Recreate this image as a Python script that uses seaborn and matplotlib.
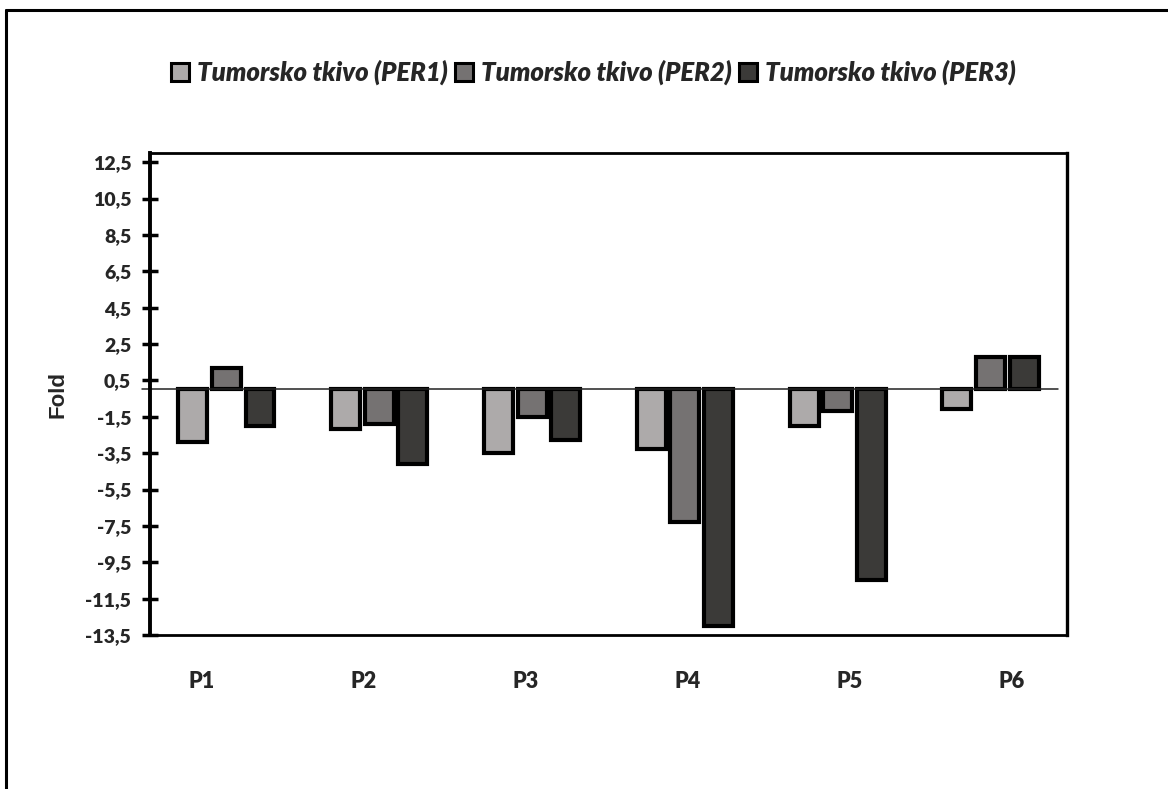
import seaborn as sns
import matplotlib.pyplot as plt
import matplotlib.lines as mlines
import pandas as pd
import numpy as np

# --- DATA ---
patients = ['P1', 'P2', 'P3', 'P4', 'P5', 'P6']
series = ['Tumorsko tkivo (PER1)', 'Tumorsko tkivo (PER2)', 'Tumorsko tkivo (PER3)']
per1 = [-2.9, -2.2, -3.5, -3.3, -2.0, -1.1]
per2 = [1.2, -1.9, -1.5, -7.3, -1.2, 1.8]
per3 = [-2.0, -4.1, -2.8, -13.0, -10.5, 1.8]
y_ticks = [-13.5, -11.5, -9.5, -7.5, -5.5, -3.5, -1.5, 0.5, 2.5, 4.5, 6.5, 8.5, 10.5, 12.5]
y_tick_labels = ['-13,5', '-11,5', '-9,5', '-7,5', '-5,5', '-3,5', '-1,5',
                 '0,5', '2,5', '4,5', '6,5', '8,5', '10,5', '12,5']

df = pd.DataFrame({
    'Patient': patients * 3,
    'Serie': [s for s in series for _ in patients],
    'Fold': per1 + per2 + per3,
})

colors = dict(zip(series, ['#ADAAA9', '#767271', '#3B3A38']))

# --- FIGURE ---
sns.set_theme(style="white")
plt.rcParams['font.family'] = ['Lato', 'DejaVu Sans']

fig = plt.figure(figsize=(11.68, 7.89), dpi=100)
ax = fig.add_axes([0.1284, 0.1952, 0.7851, 0.6108])

sns.barplot(data=df, x='Patient', y='Fold', hue='Serie', palette=colors,
            width=0.66, gap=0.14, edgecolor='black', linewidth=3.0,
            order=patients, hue_order=series, legend=True, ax=ax)

ax.set_xlim(-0.5, 5.5)
ax.set_ylim(-13.5, 13.0)

# zero line (category axis)
ax.plot([-0.55, 5.44], [0, 0], color='#222222', lw=1.1, zorder=1, clip_on=False)

# y axis
ax.set_yticks(y_ticks)
ax.set_yticklabels(y_tick_labels, fontsize=14, fontweight='heavy')
ax.tick_params(axis='y', direction='inout', length=11, width=2.5, color='black', pad=8, left=True)
ax.set_ylabel('Fold', fontsize=16, fontweight='bold', labelpad=12,
              family=['Liberation Sans', 'DejaVu Sans'])

# x labels (slightly offset from bar groups like the original)
ax.set_xticks(np.arange(len(patients)) * 1.06 - 0.16)
ax.set_xticklabels(patients, fontsize=15.5, fontweight='heavy')
ax.tick_params(axis='x', length=0, pad=26)
ax.set_xlabel('')

for side, lw in [('left', 2.8), ('bottom', 2.0), ('top', 2.0), ('right', 2.4)]:
    ax.spines[side].set_visible(True)
    ax.spines[side].set_color('black')
    ax.spines[side].set_linewidth(lw)

# legend on top
handles, labels = ax.get_legend_handles_labels()
ax.legend_.remove()
for h in handles:
    h.set_linewidth(2.2)
fig.legend(handles, labels, loc='center', bbox_to_anchor=(0.508, 0.908), ncol=3,
           frameon=False, handlelength=0.7, handleheight=0.7, handletextpad=0.3,
           columnspacing=0.3, prop={'family': 'Lato', 'weight': 'heavy',
                                    'style': 'italic', 'size': 18.5})

# outer chart border (top and left visible)
fig.add_artist(mlines.Line2D([0.005, 1.0], [0.987, 0.987], color='black', lw=2.2,
                             transform=fig.transFigure))
fig.add_artist(mlines.Line2D([0.0055, 0.0055], [0.0, 0.987], color='black', lw=2.2,
                             transform=fig.transFigure))

fig.savefig('out.png', dpi=100, facecolor='white')
